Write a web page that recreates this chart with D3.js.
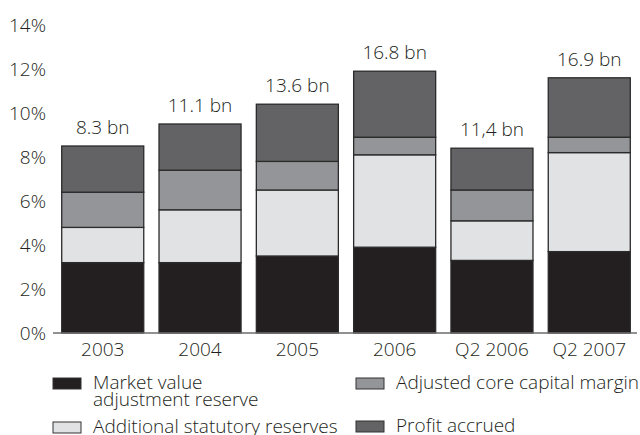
<!DOCTYPE html>
<html>
<head>
<meta charset="utf-8">
<script src="https://cdn.jsdelivr.net/npm/d3@7"></script>
<style>
  body { margin: 0; background: #fff; }
  svg text { font-family: "Open Sans", sans-serif; font-weight: 300; fill: #231f20; }
</style>
</head>
<body>
<div id="chart"></div>
<script>
// data (percent of liabilities)
const categories = ["2003", "2004", "2005", "2006", "Q2 2006", "Q2 2007"];
const marketValue = [3.2, 3.2, 3.5, 3.9, 3.3, 3.7];
const additionalReserves = [1.6, 2.4, 3.0, 4.2, 1.8, 4.5];
const adjustedCoreMargin = [1.6, 1.8, 1.3, 0.8, 1.4, 0.7];
const profitAccrued = [2.1, 2.1, 2.6, 3.0, 1.9, 2.7];
const totalLabels = ["8.3 bn", "11.1 bn", "13.6 bn", "16.8 bn", "11,4 bn", "16.9 bn"];
const yTicks = [0, 2, 4, 6, 8, 10, 12, 14];

const keys = ["market", "additional", "adjusted", "profit"];
const colors = {
    market: "#231f20",
    additional: "#e1e2e4",
    adjusted: "#949598",
    profit: "#636365"
};
const legendNames = {
    market: ["Market value", "adjustment reserve"],
    additional: ["Additional statutory reserves"],
    adjusted: ["Adjusted core capital margin"],
    profit: ["Profit accrued"]
};

let rows = categories.map((c, i) => ({
    cat: c,
    market: marketValue[i],
    additional: additionalReserves[i],
    adjusted: adjustedCoreMargin[i],
    profit: profitAccrued[i],
    label: totalLabels[i]
}));

let width = 640;
let height = 435;
let fontSize = "19px";

let svg = d3.select("#chart")
    .append("svg")
    .attr("width", width)
    .attr("height", height);

let x = d3.scaleBand()
    .domain(categories)
    .range([55, 637])
    .paddingInner(0.157)
    .paddingOuter(0.069);

let y = d3.scaleLinear()
    .domain([0, 14])
    .range([333, 25]);

// y axis, labels only
let yAxis = svg.append("g")
    .attr("transform", "translate(55,0)")
    .call(d3.axisLeft(y).tickValues(yTicks).tickFormat(d => d + "%").tickSize(0).tickPadding(9));
yAxis.select(".domain").remove();
yAxis.selectAll("text")
    .style("font-size", fontSize)
    .style("font-family", "'Open Sans', sans-serif")
    .style("font-weight", 300)
    .attr("fill", "#231f20");

let stacked = d3.stack().keys(keys)(rows);

svg.append("g")
    .selectAll("g")
    .data(stacked)
    .join("g")
    .attr("fill", d => colors[d.key])
    .selectAll("rect")
    .data(d => d)
    .join("rect")
    .attr("x", d => x(d.data.cat))
    .attr("width", x.bandwidth())
    .attr("y", d => y(d[1]))
    .attr("height", d => y(d[0]) - y(d[1]))
    .attr("stroke", "#2b2a2b")
    .attr("stroke-width", 1.3);

// baseline
svg.append("line")
    .attr("x1", 53)
    .attr("x2", 637)
    .attr("y1", y(0))
    .attr("y2", y(0))
    .attr("stroke", "#6d6d6f")
    .attr("stroke-width", 1.5);

// totals over bars
svg.append("g")
    .selectAll("text")
    .data(rows)
    .join("text")
    .attr("x", d => x(d.cat) + x.bandwidth() / 2)
    .attr("y", d => y(d.market + d.additional + d.adjusted + d.profit) - 12)
    .attr("text-anchor", "middle")
    .style("font-size", fontSize)
    .text(d => d.label);

// category labels
svg.append("g")
    .selectAll("text")
    .data(categories)
    .join("text")
    .attr("x", d => x(d) + x.bandwidth() / 2)
    .attr("y", 356)
    .attr("text-anchor", "middle")
    .style("font-size", fontSize)
    .text(d => d);

// legend
let legendPos = {
    market: [53, 378],
    adjusted: [356, 378],
    additional: [53, 422],
    profit: [356, 421]
};

let legend = svg.append("g")
    .selectAll("g")
    .data(keys)
    .join("g")
    .attr("transform", d => "translate(" + legendPos[d][0] + "," + legendPos[d][1] + ")");

legend.append("rect")
    .attr("width", 28)
    .attr("height", 11)
    .attr("fill", d => colors[d])
    .attr("stroke", "#333")
    .attr("stroke-width", 1);

legend.append("text")
    .attr("x", 40)
    .attr("y", 11)
    .style("font-size", fontSize)
    .selectAll("tspan")
    .data(d => legendNames[d])
    .join("tspan")
    .attr("x", 40)
    .attr("dy", (d, i) => i === 0 ? 0 : 17)
    .text(d => d);
</script>
</body>
</html>
